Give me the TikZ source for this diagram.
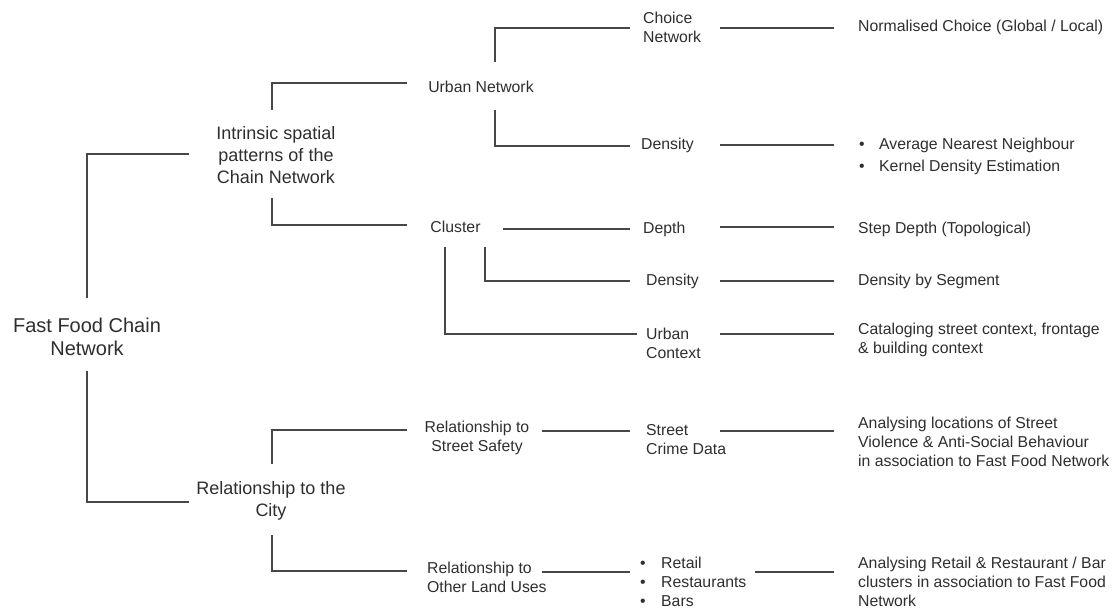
\documentclass[tikz,border=0pt]{standalone}
\usepackage{fontspec}
\setmainfont{Liberation Sans}
\begin{document}
\begin{tikzpicture}[x=1pt,y=-1pt,
  txt/.style={inner sep=0pt, text=black!82, font=\fontsize{15.8}{19}\selectfont},
  ltxt/.style={txt, anchor=west, align=left},
  ctxt/.style={txt, anchor=center, align=center},
  lvl1/.style={ctxt, font=\fontsize{18}{22}\selectfont},
  rootbox/.style={ctxt, font=\fontsize{20}{23}\selectfont},
  conn/.style={draw=black!72, line width=1.1pt}]
\useasboundingbox (0,0) rectangle (1112,610);

% nodes
\node[rootbox] (root) at (87,336.5) {Fast Food Chain\\Network};
\node[lvl1] (intr) at (276,155) {Intrinsic spatial\\patterns of the\\Chain Network};
\node[lvl1] (city) at (271,500.5) {Relationship to the\\City};
\node[ctxt] (urban) at (481,87) {Urban Network};
\node[ctxt] (cluster) at (455.5,227) {Cluster};
\node[ctxt] (safety) at (477,437.5) {Relationship to\\Street Safety};
\node[ltxt] (landuse) at (427,577.5) {Relationship to\\Other Land Uses};
\node[ltxt] (choice) at (643,27.5) {Choice\\Network};
\node[ltxt] (dens1) at (641,145) {Density};
\node[ltxt] (depth) at (643,229) {Depth};
\node[ltxt] (dens2) at (646,281) {Density};
\node[ltxt] (context) at (646,343.5) {Urban\\Context};
\node[ltxt] (crime) at (646,439.5) {Street\\Crime Data};
\node[ltxt] (retail) at (640,582) {\makebox[21pt][l]{\textbullet}Retail\\\makebox[21pt][l]{\textbullet}Restaurants\\\makebox[21pt][l]{\textbullet}Bars};
\node[ltxt] (r1) at (858,27) {Normalised Choice (Global / Local)};
\node[ltxt, font=\fontsize{15.8}{22}\selectfont] (r2) at (859,156) {\makebox[20pt][l]{\textbullet}Average Nearest Neighbour\\\makebox[20pt][l]{\textbullet}Kernel Density Estimation};
\node[ltxt] (r3) at (858,229) {Step Depth (Topological)};
\node[ltxt] (r4) at (858,281) {Density by Segment};
\node[ltxt] (r5) at (858,339.5) {Cataloging street context, frontage\\\& building context};
\node[ltxt] (r6) at (858,442) {Analysing locations of Street\\Violence \& Anti-Social Behaviour\\in association to Fast Food Network};
\node[ltxt] (r7) at (858,582) {Analysing Retail \& Restaurant / Bar\\clusters in association to Fast Food\\Network};

% connectors
\draw[conn] ([shift={(0,-38.5)}]root.center) |- ([shift={(-87,-1)}]intr.center);
\draw[conn] ([shift={(0,34.5)}]root.center) |- ([shift={(-82,1.5)}]city.center);
\draw[conn] ([shift={(-4,-45)}]intr.center) |- ([shift={(-74,-4)}]urban.center);
\draw[conn] ([shift={(-4,43)}]intr.center) |- ([shift={(-48.5,-2)}]cluster.center);
\draw[conn] ([shift={(14,-25)}]urban.center) |- ([shift={(-13,0.5)}]choice.west);
\draw[conn] ([shift={(14,23)}]urban.center) |- ([shift={(-11,1)}]dens1.west);
\draw[conn] ([shift={(47.5,2)}]cluster.center) -- ([shift={(-13,0)}]depth.west);
\draw[conn] ([shift={(29.5,20)}]cluster.center) |- ([shift={(-16,0)}]dens2.west);
\draw[conn] ([shift={(-10.5,20)}]cluster.center) |- ([shift={(-9,-9.5)}]context.west);
\draw[conn] ([shift={(77,0.5)}]choice.west) -- ([shift={(-24,1)}]r1.west);
\draw[conn] ([shift={(79,0)}]dens1.west) -- ([shift={(-25,-11)}]r2.west);
\draw[conn] ([shift={(77,-2)}]depth.west) -- ([shift={(-24,-2)}]r3.west);
\draw[conn] ([shift={(74,0)}]dens2.west) -- ([shift={(-24,0)}]r4.west);
\draw[conn] ([shift={(74,-9.5)}]context.west) -- ([shift={(-24,-5.5)}]r5.west);
\draw[conn] ([shift={(1,-36.5)}]city.center) |- ([shift={(-70,-7.5)}]safety.center);
\draw[conn] ([shift={(1,34.5)}]city.center) |- ([shift={(-20,-6.5)}]landuse.west);
\draw[conn] ([shift={(65,-6.5)}]safety.center) -- ([shift={(-16,-8.5)}]crime.west);
\draw[conn] ([shift={(115,-5.5)}]landuse.west) -- ([shift={(-10,-10)}]retail.west);
\draw[conn] ([shift={(74,-8.5)}]crime.west) -- ([shift={(-24,-11)}]r6.west);
\draw[conn] ([shift={(115,-10)}]retail.west) -- ([shift={(-24,-10)}]r7.west);
\end{tikzpicture}
\end{document}
